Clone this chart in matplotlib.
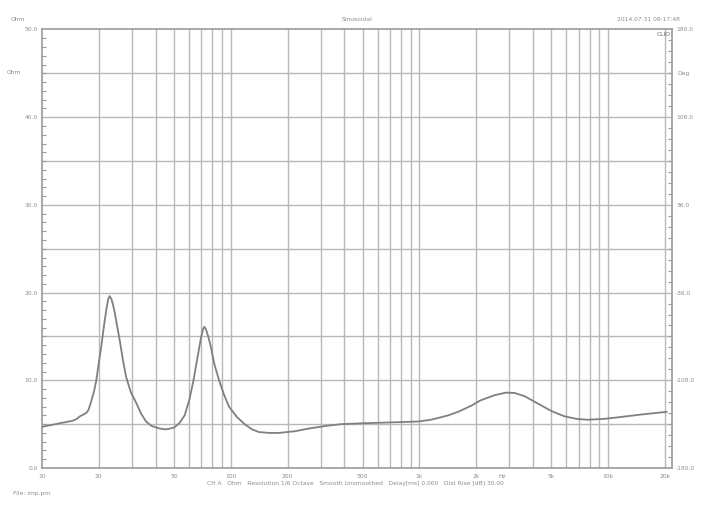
import matplotlib
matplotlib.use("Agg")
import matplotlib.pyplot as plt
from matplotlib.ticker import FixedLocator, NullFormatter, MultipleLocator

# ---- data ----
freq_hz = [10, 11.2, 12.4, 13.5, 14.6, 15.3, 15.9, 16.6, 17.2, 17.6, 18.0, 18.4, 18.9, 19.4,
           20.0, 20.6, 21.3, 21.9, 22.4, 22.8, 23.3, 23.8, 24.3, 25.0, 25.8, 26.8, 27.9,
           29.5, 31.6, 33.5, 35.6, 38, 42, 45.4, 50, 53.4, 57, 60.4, 63.5, 66.8,
           69.5, 71.5, 72.5, 74, 76, 78.5, 82, 86.8, 92, 97.9, 108, 120, 130, 141, 160,
           180, 220, 259, 320, 386, 500, 709, 983, 1150, 1254, 1420, 1601, 1882, 2100,
           2500, 2882, 3200, 3600, 4200, 5000, 5855, 6800, 7785, 9500, 11500, 15000, 20400]
impedance_ohm = [4.7, 4.9, 5.1, 5.25, 5.4, 5.6, 5.9, 6.1, 6.3, 6.6, 7.2, 7.9, 8.8, 10.0,
                 12.0, 13.8, 16.2, 18.0, 19.2, 19.6, 19.3, 18.6, 17.7, 16.2, 14.6, 12.4, 10.4,
                 8.7, 7.4, 6.2, 5.3, 4.8, 4.5, 4.4, 4.6, 5.1, 6.0, 7.8, 10.0, 12.7,
                 14.8, 15.9, 16.1, 15.8, 15.0, 13.8, 11.8, 10.0, 8.4, 7.0, 5.8, 4.9, 4.4, 4.1, 4.0,
                 4.0, 4.2, 4.5, 4.8, 5.0, 5.1, 5.2, 5.3, 5.5, 5.7, 6.0, 6.4, 7.1, 7.7,
                 8.3, 8.6, 8.55, 8.2, 7.4, 6.5, 5.9, 5.6, 5.5, 5.6, 5.8, 6.1, 6.4]

x_tick_vals = [10, 20, 50, 100, 200, 500, 1000, 2000, 2750, 5000, 10000, 20000]
x_tick_labels = ["10", "20", "50", "100", "200", "500", "1k", "2k", "Hz", "5k", "10k", "20k"]
grid_freqs = [20, 30, 40, 50, 60, 70, 80, 90, 100, 200, 300, 400, 500, 600, 700, 800,
              900, 1000, 2000, 3000, 4000, 5000, 6000, 7000, 8000, 9000, 10000, 20000]
left_ticks = [0, 10, 20, 30, 40, 50]
left_labels = ["0.0", "10.0", "20.0", "30.0", "40.0", "50.0"]
right_ticks = [-180, -108, -36, 36, 108, 180]
right_labels = ["-180.0", "-108.0", "-36.0", "36.0", "108.0", "180.0"]

TXT = "#8c8c8c"
GRID = "#b8b8b8"
FS = 4.3

fig = plt.figure(figsize=(7.05, 5.11), dpi=100)
ax = fig.add_axes([42 / 705, 1 - 468 / 511, (672 - 42) / 705, (468 - 29.5) / 511])
ax.set_xscale("log")
ax.set_xlim(10, 21800)
ax.set_ylim(0, 50)

# grid
for f in grid_freqs:
    ax.axvline(f, color=GRID, lw=1.0, zorder=1)
for v in range(5, 50, 5):
    ax.axhline(v, color=GRID, lw=1.0, zorder=1)

ax.plot(freq_hz, impedance_ohm, color="#808080", lw=1.3, zorder=3,
        solid_joinstyle="round")

for s in ax.spines.values():
    s.set_color("#9a9a9a")
    s.set_linewidth(1.2)

ax.xaxis.set_major_locator(FixedLocator(x_tick_vals))
ax.set_xticklabels(x_tick_labels)
ax.xaxis.set_minor_formatter(NullFormatter())
ax.xaxis.set_minor_locator(FixedLocator([]))
ax.tick_params(axis="x", which="major", length=0, labelsize=FS, labelcolor=TXT, pad=4)

ax.yaxis.set_major_locator(FixedLocator(left_ticks))
ax.set_yticklabels(left_labels)
ax.yaxis.set_minor_locator(MultipleLocator(1))
ax.tick_params(axis="y", which="major", direction="in", length=0, labelsize=FS,
               labelcolor=TXT, pad=3)
ax.tick_params(axis="y", which="minor", direction="in", length=3, color="#9a9a9a",
               width=0.8)

ax2 = ax.twinx()
ax2.set_ylim(-180, 180)
ax2.yaxis.set_major_locator(FixedLocator(right_ticks))
ax2.set_yticklabels(right_labels)
ax2.yaxis.set_minor_locator(MultipleLocator(9))
ax2.tick_params(axis="y", which="major", direction="in", length=0, labelsize=FS,
                labelcolor=TXT, pad=3)
ax2.tick_params(axis="y", which="minor", direction="in", length=3, color="#9a9a9a",
                width=0.8)
for s in ax2.spines.values():
    s.set_visible(False)

# annotations
fig.text(18 / 705, 1 - 19 / 511, "Ohm", fontsize=FS, color=TXT, ha="center", va="center")
fig.text(14 / 705, 1 - 73 / 511, "Ohm", fontsize=FS, color=TXT, ha="center", va="center")
fig.text(684 / 705, 1 - 73 / 511, "Deg", fontsize=FS, color=TXT, ha="center", va="center")
fig.text(357 / 705, 1 - 19 / 511, "Sinusoidal", fontsize=FS, color=TXT, ha="center", va="center")
fig.text(648 / 705, 1 - 19 / 511, "2014.07.31 09:17:48", fontsize=FS, color=TXT,
         ha="center", va="center")
fig.text(664 / 705, 1 - 34 / 511, "CLIO", fontsize=FS, color="#666666", ha="center",
         va="center")
fig.text(355 / 705, 1 - 484 / 511,
         "CH A   Ohm   Resolution 1/6 Octave   Smooth Unsmoothed   Delay[ms] 0.000   Dist Rise [dB] 30.00",
         fontsize=FS, color=TXT, ha="center", va="center")
fig.text(13 / 705, 1 - 493 / 511, "File: imp.pm", fontsize=FS, color=TXT,
         ha="left", va="center")

fig.savefig("out.png", dpi=100, facecolor="white")
